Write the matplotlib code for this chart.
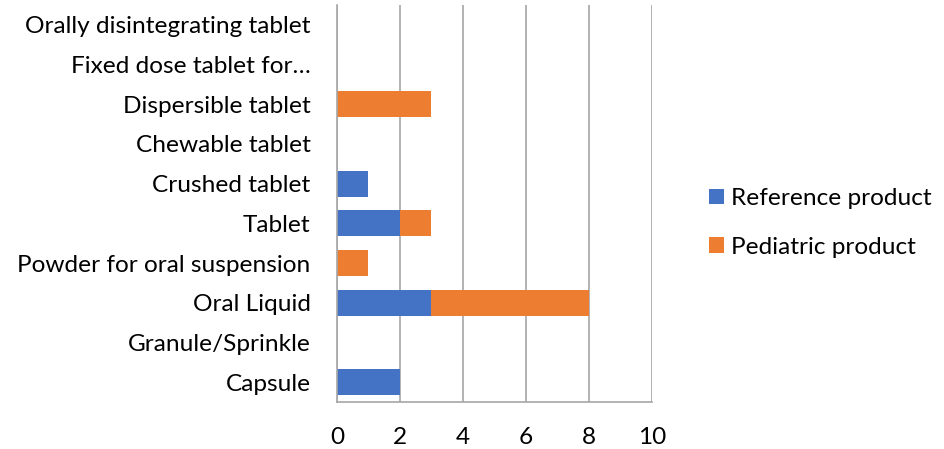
import matplotlib
matplotlib.use("Agg")
import matplotlib.pyplot as plt
import numpy as np

categories = [
    "Capsule",
    "Granule/Sprinkle",
    "Oral Liquid",
    "Powder for oral suspension",
    "Tablet",
    "Crushed tablet",
    "Chewable tablet",
    "Dispersible tablet",
    "Fixed dose tablet for\u2026",
    "Orally disintegrating tablet",
]
reference_product = [2, 0, 3, 0, 2, 1, 0, 0, 0, 0]
pediatric_product = [0, 0, 5, 1, 1, 0, 0, 3, 0, 0]
x_ticks = [0, 2, 4, 6, 8, 10]

BLUE = "#4472C4"
ORANGE = "#ED7D31"
GRID = "#A6A6A6"

plt.rcParams["font.family"] = ["Lato", "DejaVu Sans"]
FS = 17.6

W, H = 945, 449
fig = plt.figure(figsize=(W / 100, H / 100), dpi=100)
ax = fig.add_axes([337 / W, (H - 402) / H, (652 - 337) / W, (402 - 5) / H])

y = np.arange(len(categories))
ax.barh(y, reference_product, height=0.66, color=BLUE, label="Reference product")
ax.barh(y, pediatric_product, left=reference_product, height=0.66,
        color=ORANGE, label="Pediatric product")

ax.set_xlim(0, 10)
ax.set_ylim(-0.5, len(categories) - 0.5)
ax.set_xticks(x_ticks)
ax.set_xticklabels([str(t) for t in x_ticks], fontsize=FS, color="#000000")
ax.set_yticks(y)
ax.set_yticklabels(categories, fontsize=FS, color="#000000")
ax.tick_params(axis="y", length=0, pad=19)
ax.tick_params(axis="x", length=0, pad=18)

ax.xaxis.grid(True, color=GRID, linewidth=1.2)
ax.set_axisbelow(True)
for side in ("top", "right"):
    ax.spines[side].set_visible(False)
ax.spines["left"].set_color(GRID)
ax.spines["bottom"].set_color(GRID)
ax.spines["left"].set_linewidth(1.2)
ax.spines["bottom"].set_linewidth(1.2)

fig.legend(loc="center left", bbox_to_anchor=(697 / W, 1 - 223 / H),
           frameon=False, fontsize=FS, handlelength=0.6, handleheight=0.6,
           handletextpad=0.3, labelspacing=1.12, borderpad=0)

fig.savefig("out.png", dpi=100)
